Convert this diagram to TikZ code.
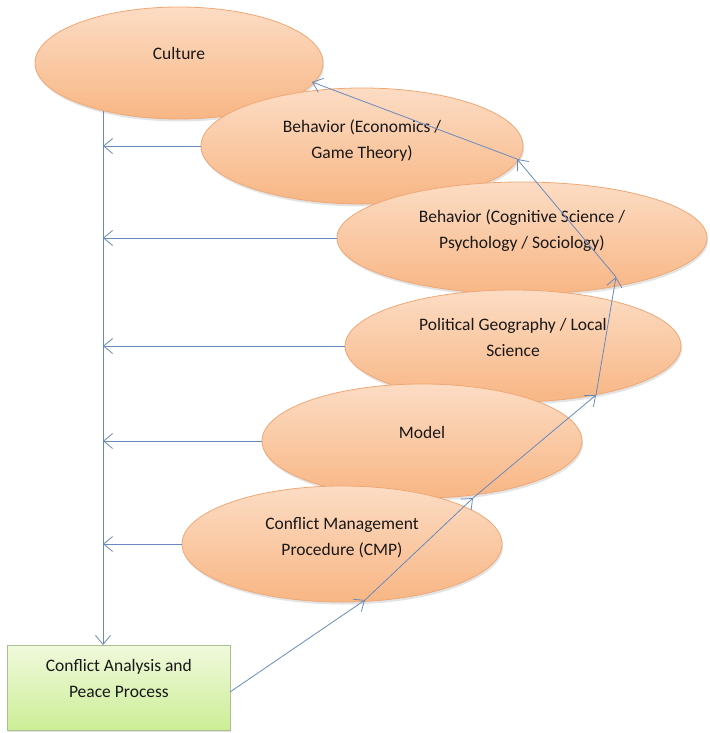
\documentclass[tikz,border=0pt]{standalone}
\usepackage{fontspec}
\setmainfont{Carlito}
\usetikzlibrary{arrows.meta,shapes.geometric,shadows}
\definecolor{ovtop}{RGB}{252,220,196}
\definecolor{ovbot}{RGB}{248,182,132}
\definecolor{ovline}{RGB}{238,168,118}
\definecolor{bxtop}{RGB}{240,249,220}
\definecolor{bxbot}{RGB}{204,238,150}
\definecolor{bxline}{RGB}{172,192,140}
\definecolor{arrc}{RGB}{104,138,190}
\definecolor{txtc}{RGB}{24,24,24}
\begin{document}
\begin{tikzpicture}[x=1pt,y=-1pt,
  oval/.style={ellipse, draw=ovline, line width=0.8pt, top color=ovtop, bottom color=ovbot,
    inner sep=0pt, drop shadow={shadow xshift=1pt, shadow yshift=-2.5pt, opacity=0.18, fill=black!60}},
  boxsty/.style={rectangle, draw=bxline, line width=0.8pt, top color=bxtop, bottom color=bxbot,
    inner sep=0pt, anchor=north west, drop shadow={shadow xshift=1pt, shadow yshift=-2pt, opacity=0.18, fill=black!60}},
  lbl/.style={font=\fontsize{17.5}{26}\selectfont, text=txtc, align=center, inner sep=0pt},
  conn/.style={draw=arrc, line width=0.8pt, -{Straight Barb[length=9pt,width=15pt,line width=0.8pt]}}
]
\useasboundingbox (0,0) rectangle (709,733);

\node[oval, minimum width=288pt, minimum height=112pt] (cult) at (179,63) {};
\node[lbl] (cult-t) at ([yshift=10pt]cult.center) {Culture};

\node[oval, minimum width=322pt, minimum height=116pt] (econ) at (362,146) {};
\node[lbl] (econ-t) at ([yshift=5pt]econ.center) {Behavior (Economics /\\Game Theory)};

\node[oval, minimum width=370pt, minimum height=112pt] (cogn) at (522,238) {};
\node[lbl] (cogn-t) at ([yshift=7pt]cogn.center) {Behavior (Cognitive Science /\\Psychology / Sociology)};

\node[oval, minimum width=336pt, minimum height=112pt] (polg) at (513,346) {};
\node[lbl] (polg-t) at ([yshift=9pt]polg.center) {Political Geography / Local\\Science};

\node[oval, minimum width=320pt, minimum height=114pt] (modl) at (422,441) {};
\node[lbl] (modl-t) at ([yshift=9pt]modl.center) {Model};

\node[oval, minimum width=320pt, minimum height=116pt] (cmp) at (342,544) {};
\node[lbl] (cmp-t) at ([yshift=6pt]cmp.center) {Conflict Management\\Procedure (CMP)};

\node[boxsty, minimum width=223pt, minimum height=85pt] (box) at (7,645) {};
\node[lbl] (box-t) at ([yshift=9pt]box.center) {Conflict Analysis and\\Peace Process};

% vertical collector line
\coordinate (vtop) at (103,111);
\draw[conn] (vtop) -- (vtop |- box.north);

% horizontal arrows to collector
\foreach \n in {econ,cogn,polg,modl,cmp}
  \draw[conn] (\n.west) -- (\n.west -| vtop);

% rising chain
\coordinate (boxout) at (230,692);
\coordinate (cmp-in) at (365,600);
\coordinate (modl-in) at (473,498);
\coordinate (polg-in) at (596,395);
\coordinate (cogn-in) at (616,277);
\coordinate (econ-in) at (517,159);
\coordinate (cult-in) at (312,82);
\draw[conn] (boxout) -- (cmp-in);
\draw[conn] (cmp-in) -- (modl-in);
\draw[conn] (modl-in) -- (polg-in);
\draw[conn] (polg-in) -- (cogn-in);
\draw[conn] (cogn-in) -- (econ-in);
\draw[conn] (econ-in) -- (cult-in);
\end{tikzpicture}
\end{document}
